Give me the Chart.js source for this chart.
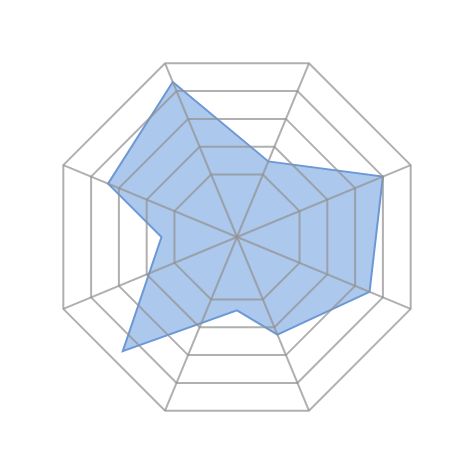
<!DOCTYPE html>
<html>
<head>
<meta charset="utf-8">
<script src="https://cdn.jsdelivr.net/npm/chart.js@4/dist/chart.umd.min.js"></script>
<style>
  html, body { margin: 0; padding: 0; background: #ffffff; }
  #wrap { position: relative; width: 474px; height: 474px; }
  #wrap canvas { position: absolute; left: 0; top: 0; }
</style>
</head>
<body>
<div id="wrap">
  <canvas id="shapeChart" width="474" height="474"></canvas>
  <canvas id="gridChart" width="474" height="474"></canvas>
</div>
<script>
// 8 spokes of the octagon grid (unlabelled in the picture)
const spokes = ["", "", "", "", "", "", "", ""];
// the shape has corners every 22.5 degrees, so it uses 16 directions
const directions = ["", "", "", "", "", "", "", "", "", "", "", "", "", "", "", ""];
// in ring units (ring 1 = innermost octagon); null = no corner there
const values = [4.33, null, 1.47, null, 4.0, null, 3.52, null, 2.26, 1.19, null, 4.12, null, 1.26, 3.39, null];
const rings = [1, 2, 3, 4, 5];

const scaleMin = -1.25;
const scaleMax = 5;
const startAngle = -22.5;
const pad = 49;

// data shape, drawn underneath
new Chart(document.getElementById("shapeChart"), {
  type: "radar",
  data: {
    labels: directions,
    datasets: [{
      data: values,
      spanGaps: true,
      fill: "start",
      backgroundColor: "rgb(172, 200, 236)",
      borderColor: "rgb(108, 152, 214)",
      borderWidth: 2,
      pointRadius: 0,
      tension: 0
    }]
  },
  options: {
    responsive: false,
    animation: false,
    layout: { padding: pad },
    plugins: { legend: { display: false }, tooltip: { enabled: false } },
    scales: {
      r: {
        display: false,
        min: scaleMin,
        max: scaleMax,
        startAngle: startAngle
      }
    }
  }
});

// octagon grid, drawn on top so it shows through the fill
new Chart(document.getElementById("gridChart"), {
  type: "radar",
  data: { labels: spokes, datasets: [] },
  options: {
    responsive: false,
    animation: false,
    layout: { padding: pad },
    plugins: { legend: { display: false }, tooltip: { enabled: false } },
    scales: {
      r: {
        min: scaleMin,
        max: scaleMax,
        startAngle: startAngle,
        afterBuildTicks: s => { s.ticks = rings.map(v => ({ value: v })); },
        ticks: { display: false },
        pointLabels: { display: false },
        grid: { color: "rgba(145, 145, 145, 0.72)", lineWidth: 2 },
        angleLines: { color: "rgba(145, 145, 145, 0.72)", lineWidth: 2 }
      }
    }
  }
});
</script>
</body>
</html>
